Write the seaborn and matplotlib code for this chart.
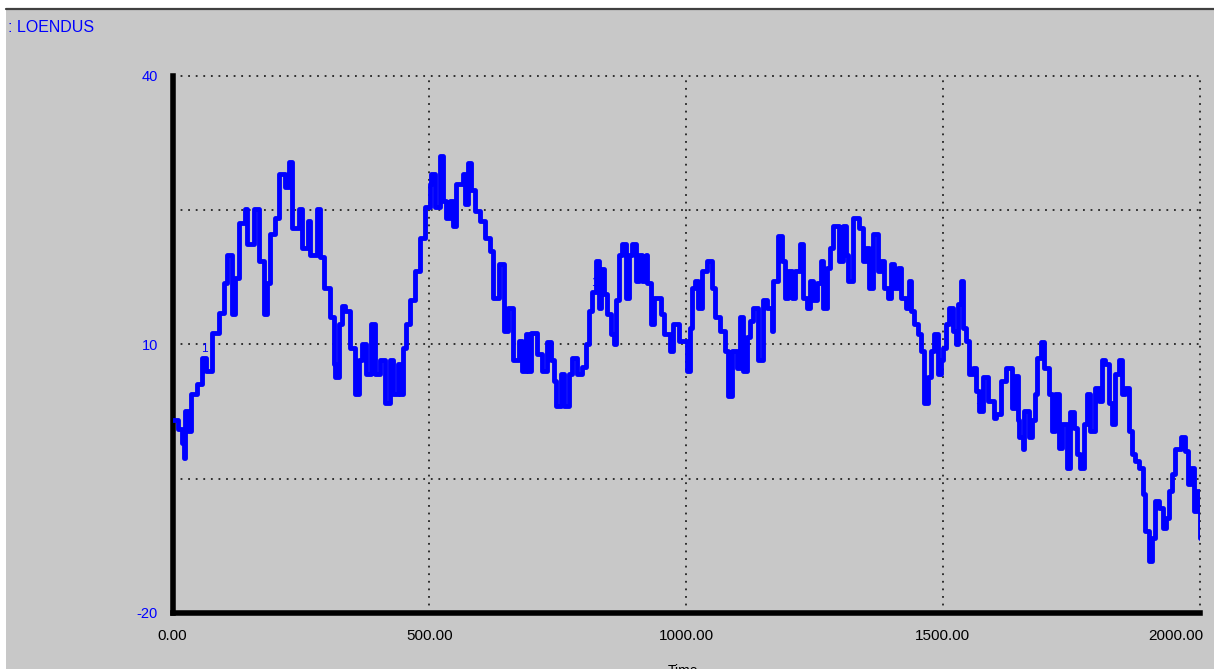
import numpy as np
import pandas as pd
import matplotlib
matplotlib.use("Agg")
import matplotlib.pyplot as plt
import matplotlib.transforms as mtransforms
import seaborn as sns
from matplotlib.patches import Rectangle
from matplotlib.lines import Line2D

# ---- data ----
time = [0, 10, 18, 22, 24, 30, 37, 47, 57, 65, 76, 90, 100, 106, 116, 121, 129, 141, 145, 159,
        168, 178, 184, 190, 200, 208, 219, 227, 233, 247, 253, 263, 268, 282, 288, 296, 306, 315,
        317, 325, 331, 335, 345, 355, 364, 370, 376, 386, 394, 404, 413, 423, 429, 439, 443, 449,
        454, 462, 472, 482, 492, 502, 503, 511, 521, 527, 533, 541, 547, 552, 566, 570, 576, 582,
        590, 599, 609, 619, 625, 635, 645, 654, 664, 674, 680, 688, 693, 699, 709, 719, 729, 737,
        742, 746, 756, 762, 772, 778, 788, 797, 805, 811, 817, 825, 831, 835, 840, 846, 854, 860,
        864, 870, 876, 884, 889, 895, 903, 909, 915, 923, 925, 932, 938, 952, 958, 968, 974, 987,
        993, 1001, 1007, 1011, 1017, 1023, 1032, 1040, 1050, 1056, 1066, 1075, 1081, 1089, 1099,
        1105, 1111, 1119, 1124, 1130, 1140, 1150, 1158, 1168, 1170, 1179, 1187, 1193, 1199, 1207,
        1213, 1222, 1228, 1236, 1242, 1248, 1256, 1262, 1267, 1275, 1281, 1287, 1297, 1305, 1311,
        1316, 1326, 1336, 1344, 1350, 1356, 1365, 1373, 1379, 1385, 1393, 1399, 1405, 1412, 1418,
        1428, 1434, 1438, 1444, 1452, 1458, 1463, 1471, 1477, 1483, 1491, 1497, 1501, 1506, 1512,
        1520, 1526, 1530, 1536, 1540, 1546, 1552, 1559, 1565, 1571, 1579, 1589, 1599, 1604, 1614,
        1624, 1634, 1640, 1647, 1649, 1657, 1659, 1667, 1673, 1679, 1683, 1691, 1698, 1706, 1712,
        1718, 1726, 1732, 1742, 1747, 1755, 1761, 1767, 1775, 1781, 1787, 1796, 1804, 1810, 1816,
        1824, 1830, 1836, 1843, 1849, 1855, 1863, 1869, 1875, 1883, 1889, 1894, 1902, 1908, 1914,
        1922, 1928, 1934, 1941, 1947, 1953, 1963, 1971, 1977, 1983, 1990, 1996, 2000]
value = [1.5, 0.5, -1.0, -2.7, 2.6, 0.3, 4.5, 5.6, 8.5, 7.0, 11.3, 13.5, 16.8, 20.0, 13.4, 17.4,
         23.5, 25.1, 21.2, 25.1, 19.3, 13.4, 16.8, 22.3, 24.1, 29.0, 27.5, 30.3, 23.0, 25.1, 20.8,
         23.8, 20.0, 25.1, 19.7, 16.3, 13.0, 7.8, 6.3, 12.3, 14.3, 13.7, 9.6, 4.5, 8.2, 10.0, 6.7,
         12.3, 6.7, 8.2, 3.4, 8.2, 4.5, 7.8, 4.5, 9.6, 12.3, 14.9, 18.2, 21.9, 25.3, 27.9, 29.0,
         25.3, 31.0, 26.0, 24.1, 26.0, 23.2, 27.9, 29.0, 25.7, 30.2, 27.2, 24.9, 23.8, 21.9, 20.4,
         15.2, 19.0, 11.5, 14.1, 8.2, 10.4, 7.0, 11.2, 7.0, 11.3, 8.9, 7.0, 10.2, 8.2, 5.9, 3.1,
         6.7, 3.1, 6.7, 8.5, 6.7, 7.5, 10.0, 13.7, 15.8, 19.3, 14.1, 18.4, 15.6, 13.4, 11.2, 10.0,
         14.9, 20.0, 21.2, 15.2, 20.0, 21.2, 17.1, 20.0, 17.1, 20.0, 16.8, 12.3, 15.2, 13.4, 11.2,
         9.3, 12.3, 10.4, 10.4, 7.0, 11.8, 16.3, 17.1, 14.1, 18.2, 19.3, 16.3, 13.0, 11.5, 9.3,
         4.2, 9.3, 7.4, 13.0, 7.0, 10.8, 12.6, 14.1, 8.2, 14.9, 14.1, 11.5, 17.1, 22.1, 19.3,
         15.2, 18.2, 15.2, 18.2, 21.2, 15.2, 14.1, 17.1, 14.9, 16.8, 19.3, 14.1, 18.5, 20.8, 23.2,
         19.3, 23.2, 20.0, 17.1, 24.1, 23.0, 19.3, 20.8, 16.3, 22.3, 18.2, 19.3, 16.3, 15.2, 19.0,
         16.3, 18.5, 15.2, 14.1, 17.1, 13.7, 12.3, 11.2, 9.3, 3.4, 6.3, 9.3, 11.2, 6.7, 8.2, 9.6,
         12.3, 14.1, 11.5, 10.0, 14.5, 17.1, 11.8, 10.4, 6.7, 7.4, 4.8, 2.6, 6.3, 3.7, 1.8, 2.2,
         5.9, 7.4, 2.9, 6.5, 1.5, -0.4, -1.7, 2.6, -0.4, 1.5, 4.5, 8.5, 10.2, 7.4, 4.5, 0.3, 4.5,
         -1.6, 1.1, -3.8, 2.4, 0.7, -2.2, -3.8, 1.1, 4.5, 0.3, 5.1, 3.7, 8.2, 7.8, 3.4, 1.1, 6.7,
         8.2, 4.5, 5.1, 0.3, -2.2, -3.0, -3.8, -6.7, -10.8, -14.2, -11.6, -7.5, -8.3, -10.5, -9.4,
         -6.4, -4.5, -1.7, -0.4, -1.9, -5.6, -3.8, -8.6, -6.4, -11.6]

y_ticks = [-20, -5, 10, 25, 40]
y_labels = ["-20", "", "10", "", "40"]
x_ticks = [0, 500, 1000, 1500, 2000]
x_labels = ["0.00", "500.00", "1000.00", "1500.00", "2000.00"]
mark_time = [63, 821, 1569]
mark_value = [9.5, 16.8, 3.7]
title_text = ": LOENDUS"
x_name = "Time"

BLUE = "#0000FF"
BG = "#C8C8C8"

sns.set_style("white")
plt.rcParams['font.family'] = ['Liberation Sans', 'DejaVu Sans']

W, H = 1214, 669
fig = plt.figure(figsize=(W / 100, H / 100), dpi=100, facecolor=BG)
# white strips at the top and left edge, dark frame line under the top strip
fig.add_artist(Rectangle((0, 1 - 8 / H), 1, 8 / H, transform=fig.transFigure,
                         facecolor="white", edgecolor="none", zorder=-5))
fig.add_artist(Rectangle((0, 0), 6 / W, 1, transform=fig.transFigure,
                         facecolor="white", edgecolor="none", zorder=-5))
fig.add_artist(Line2D([6 / W, 1], [1 - 9 / H] * 2, transform=fig.transFigure,
                      color="#404040", lw=1.6, zorder=-4))

ax = fig.add_axes([172.5 / W, 1 - 613 / H, (1199.5 - 172.5) / W, (613 - 75.5) / H])
ax.set_facecolor("none")

df = pd.DataFrame({"Time": time, "Value": value})
sns.lineplot(data=df, x="Time", y="Value", ax=ax, color=BLUE, lw=3.5,
             drawstyle="steps-post", estimator=None, sort=False, zorder=3)

for t, v in zip(mark_time, mark_value):
    ax.text(t, v, "1", color=BLUE, fontsize=8.5, ha="center", va="center", zorder=4)

ax.set_xlim(0, 2000)
ax.set_ylim(-20, 40)
ax.set_xticks(x_ticks)
ax.set_xticklabels(x_labels)
ax.set_yticks(y_ticks)
ax.set_yticklabels(y_labels)
ax.set_xlabel("")
ax.set_ylabel("")

for s in ["top", "right"]:
    ax.spines[s].set_visible(False)
for s in ["left", "bottom"]:
    ax.spines[s].set_color("black")
    ax.spines[s].set_linewidth(4.0)
    ax.spines[s].set_capstyle("projecting")

ax.tick_params(axis="x", direction="out", length=7.5, width=4.0, color="black",
               labelcolor="black", labelsize=11, pad=4)
ax.tick_params(axis="y", direction="out", length=9, width=4.0, color="black",
               labelcolor=BLUE, labelsize=10.5, pad=1.5)

# last x label sits left-shifted so it ends at the tick's right edge
last = ax.get_xticklabels()[-1]
last.set_ha("right")
last.set_transform(last.get_transform() + mtransforms.ScaledTranslation(4 / 100, 0, fig.dpi_scale_trans))

ax.grid(True, color="#222222", linestyle=(0, (1, 3.2)), lw=1.3)
ax.set_axisbelow(True)
for gl in ax.get_xgridlines() + ax.get_ygridlines():
    gl.set_clip_on(False)

fig.text(8 / W, 1 - 28 / H, title_text, color=BLUE, fontsize=11.5, ha="left", va="center")
fig.text(668 / W, 1 - 664 / H, x_name, color="black", fontsize=10, ha="left", va="top")

fig.savefig("out.png", dpi=100, facecolor=fig.get_facecolor())
